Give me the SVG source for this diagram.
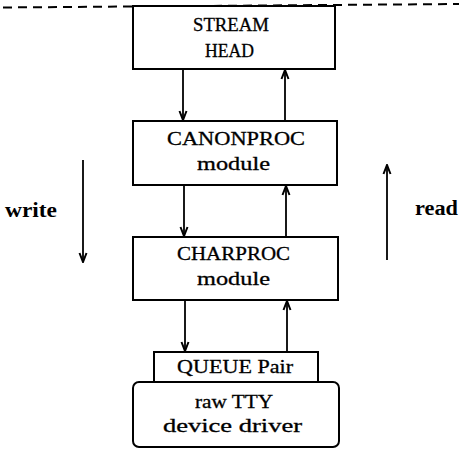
<svg xmlns="http://www.w3.org/2000/svg" width="459" height="450" viewBox="0 0 459 450">
<defs>
<marker id="ah" viewBox="-11 -6 12 12" markerWidth="12" markerHeight="12" refX="0" refY="0" orient="auto" markerUnits="userSpaceOnUse">
<path d="M-9,-3.5 L0,0 L-9,3.5" fill="none" stroke="#000" stroke-width="2"/>
</marker>
<style>
.box{fill:#fff;stroke:#000;stroke-width:2}
.t{font-family:"Liberation Serif","DejaVu Serif",serif;font-size:19px;fill:#000;text-anchor:middle;stroke:#000;stroke-width:0.3}
.lb{font-family:"Liberation Serif","DejaVu Serif",serif;font-size:20px;font-weight:bold;fill:#000}
.c{stroke:#000;stroke-width:1.8;fill:none;marker-end:url(#ah)}
</style>
</defs>
<rect width="459" height="450" fill="#fff"/>
<line x1="0" y1="7.5" x2="459" y2="4" stroke="#000" stroke-width="2" stroke-dasharray="9 6" stroke-dashoffset="-3"/>
<g id="stream-head">
<rect class="box" x="133" y="6" width="202" height="63"/>
<text class="t" x="231" y="31" textLength="76" lengthAdjust="spacingAndGlyphs">STREAM</text>
<text class="t" x="229.5" y="57" textLength="49" lengthAdjust="spacingAndGlyphs">HEAD</text>
</g>
<g id="canonproc">
<rect class="box" x="133" y="121" width="204" height="64"/>
<text class="t" x="236" y="145" textLength="138" lengthAdjust="spacingAndGlyphs">CANONPROC</text>
<text class="t" x="233.5" y="170" textLength="73" lengthAdjust="spacingAndGlyphs">module</text>
</g>
<g id="charproc">
<rect class="box" x="133" y="237" width="205" height="63"/>
<text class="t" x="233.5" y="260" textLength="113" lengthAdjust="spacingAndGlyphs">CHARPROC</text>
<text class="t" x="233.5" y="285" textLength="73" lengthAdjust="spacingAndGlyphs">module</text>
</g>
<g id="queue-pair">
<rect class="box" x="154" y="352" width="164" height="30"/>
<text class="t" x="235" y="373" textLength="116" lengthAdjust="spacingAndGlyphs">QUEUE Pair</text>
</g>
<g id="raw-tty">
<rect class="box" x="133" y="382" width="206" height="65" rx="6"/>
<text class="t" x="234" y="408" textLength="78" lengthAdjust="spacingAndGlyphs">raw TTY</text>
<text class="t" x="232.5" y="432" textLength="139" lengthAdjust="spacingAndGlyphs">device driver</text>
</g>
<g id="labels">
<text class="lb" x="5" y="217" textLength="52" lengthAdjust="spacingAndGlyphs">write</text>
<text class="lb" x="415" y="215" textLength="43" lengthAdjust="spacingAndGlyphs">read</text>
</g>
<g id="connectors">
<line class="c" x1="183" y1="69" x2="183" y2="120"/>
<line class="c" x1="285" y1="120" x2="285" y2="70"/>
<line class="c" x1="184" y1="185" x2="184" y2="236"/>
<line class="c" x1="286" y1="237" x2="286" y2="186"/>
<line class="c" x1="185" y1="300" x2="185" y2="351"/>
<line class="c" x1="287" y1="352" x2="287" y2="301"/>
<line class="c" x1="83" y1="160" x2="83" y2="262"/>
<line class="c" x1="387" y1="260" x2="387" y2="165"/>
</g>
</svg>
